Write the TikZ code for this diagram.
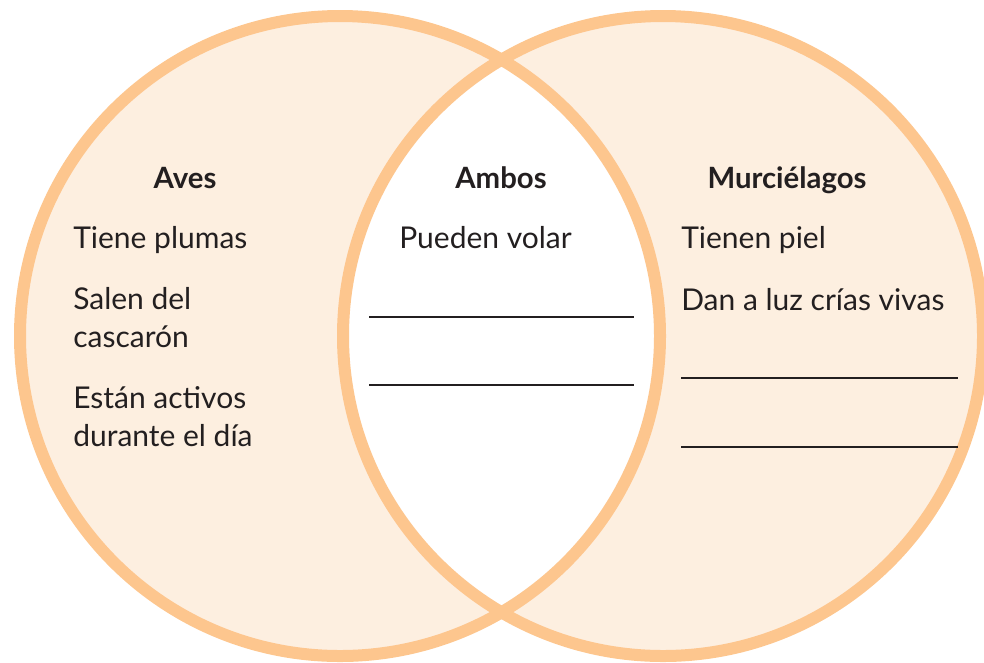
\documentclass[tikz,border=0pt]{standalone}
\usepackage{fontspec}
\setmainfont{Lato}
\usetikzlibrary{positioning}
\definecolor{vennline}{RGB}{253,198,142}
\definecolor{vennfill}{RGB}{253,239,224}
\definecolor{textgray}{RGB}{35,31,32}

\begin{document}
\begin{tikzpicture}[
            x=0.75pt, y=-0.75pt,
            ring/.style = {draw=vennline, line width=9pt},
            title/.style = {font=\fontsize{22}{28}\selectfont\bfseries, text=textgray, inner sep=0pt, anchor=base},
            item/.style = {font=\fontsize{22.5}{28}\selectfont, text=textgray, inner sep=0pt, align=left, anchor=base west},
            blank/.style = {draw=textgray, line width=0.9pt},
        ]
            \useasboundingbox (0,0) rectangle (984,662);
            \clip (0,0) rectangle (984,662);

            % Circles
            \coordinate (aves) at (340,336);
            \coordinate (murc) at (663,336);
            \fill[vennfill] (aves) circle[radius=240pt];
            \fill[vennfill] (murc) circle[radius=240pt];
            \begin{scope}
                \clip (aves) circle[radius=240pt];
                \fill[white] (murc) circle[radius=240pt];
            \end{scope}
            \draw[ring] (aves) circle[radius=240pt];
            \draw[ring] (murc) circle[radius=240pt];

            % Titles
            \node[title] (tAves) at (185,188) {Aves};
            \node[title] (tAmbos) at (501,188) {Ambos};
            \node[title] (tMurc) at (787,188) {Murciélagos};

            % Aves (base = last line)
            \node[item] (plumas) at (73,248) {Tiene plumas};
            \node[item] (cascaron) at (73,347) {Salen del\\cascarón};
            \node[item] (activos) at (73,446) {Están activos\\durante el día};

            % Ambos
            \node[item] (volar) at (399,248) {Pueden volar};
            \draw[blank] (369,317) -- (634,317);
            \draw[blank] (369,385) -- (634,385);

            % Murcielagos
            \node[item] (piel) at (681,248) {Tienen piel};
            \node[item] (crias) at (681,310) {Dan a luz crías vivas};
            \draw[blank] (681,378) -- (958,378);
            \draw[blank] (681,447) -- (958,447);

        \end{tikzpicture}
\end{document}
